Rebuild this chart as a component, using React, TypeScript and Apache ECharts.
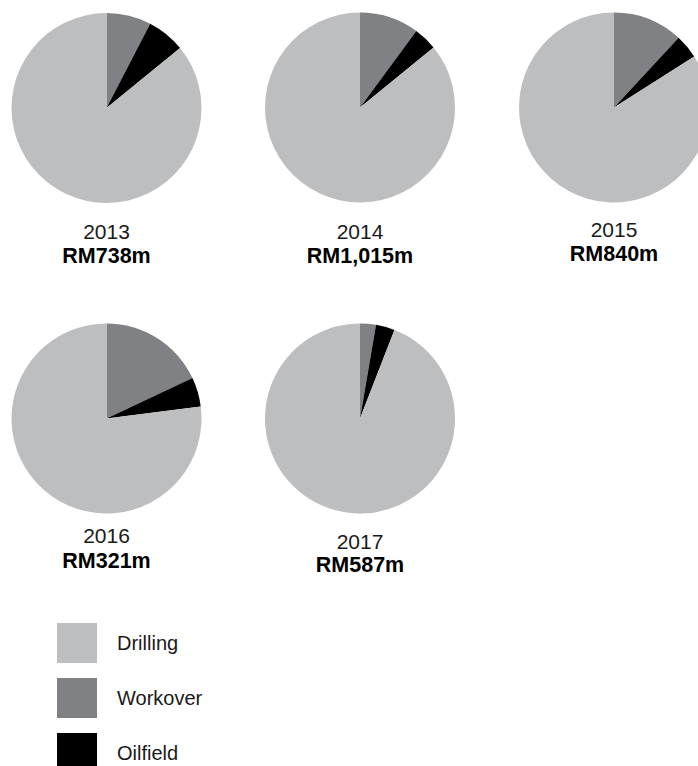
import React, { useEffect, useRef } from "react";
import * as echarts from "echarts";

const years = ["2013", "2014", "2015", "2016", "2017"];
const totals = ["RM738m", "RM1,015m", "RM840m", "RM321m", "RM587m"];
const categories = ["Drilling", "Workover", "Oilfield"];
const drilling = [85.9, 85.9, 84.0, 77.0, 94.1];
const workover = [7.6, 10.1, 11.9, 18.0, 2.7];
const oilfield = [6.5, 4.0, 4.1, 5.0, 3.2];

const COLORS: Record<string, string> = {
  Drilling: "#bdbec0",
  Workover: "#808184",
  Oilfield: "#000000",
};

const centers: [number, number][] = [
  [106.5, 108],
  [360, 107.5],
  [614, 107.5],
  [106.5, 418.5],
  [360, 418.5],
];
const yearY = [231, 231, 229, 535.5, 541];
const totalY = [256, 256, 254, 560.5, 565];
const FONT = "'Liberation Sans', Arial, Helvetica, sans-serif";

export default function App() {
  const ref = useRef<HTMLDivElement>(null);
  useEffect(() => {
    if (!ref.current) return;
    const chart = echarts.init(ref.current, undefined, { renderer: "svg" });
    const series = years.map((y, i) => ({
      type: "pie",
      name: y,
      center: centers[i],
      radius: [0, 95],
      startAngle: 90,
      clockwise: true,
      silent: true,
      label: { show: false },
      labelLine: { show: false },
      emphasis: { disabled: true },
      itemStyle: { borderWidth: 0 },
      data: [
        { name: "Workover", value: workover[i], itemStyle: { color: COLORS.Workover } },
        { name: "Oilfield", value: oilfield[i], itemStyle: { color: COLORS.Oilfield } },
        { name: "Drilling", value: drilling[i], itemStyle: { color: COLORS.Drilling } },
      ],
    }));
    const graphics: any[] = [];
    years.forEach((y, i) => {
      graphics.push({
        type: "text",
        x: centers[i][0],
        y: yearY[i],
        style: {
          text: y,
          align: "center",
          verticalAlign: "middle",
          fontSize: 21,
          fontFamily: FONT,
          fill: "#1a1a1a",
        },
      });
      graphics.push({
        type: "text",
        x: centers[i][0],
        y: totalY[i],
        style: {
          text: totals[i],
          align: "center",
          verticalAlign: "middle",
          fontSize: 21.5,
          fontWeight: "bold",
          fontFamily: FONT,
          fill: "#000000",
        },
      });
    });
    chart.setOption({
      animation: false,
      backgroundColor: "#ffffff",
      legend: {
        data: categories,
        orient: "vertical",
        left: 57,
        top: 623,
        height: 200,
        padding: 0,
        itemWidth: 40,
        itemHeight: 40,
        itemGap: 15,
        icon: "rect",
        selectedMode: false,
        textStyle: {
          fontSize: 20,
          fontFamily: FONT,
          color: "#1a1a1a",
          padding: [0, 0, 0, 15],
        },
      },
      series,
      graphic: graphics,
    });
    return () => chart.dispose();
  }, []);
  return (
    <div
      ref={ref}
      style={{ position: "absolute", left: 0, top: 0, width: 698, height: 766 }}
    />
  );
}
